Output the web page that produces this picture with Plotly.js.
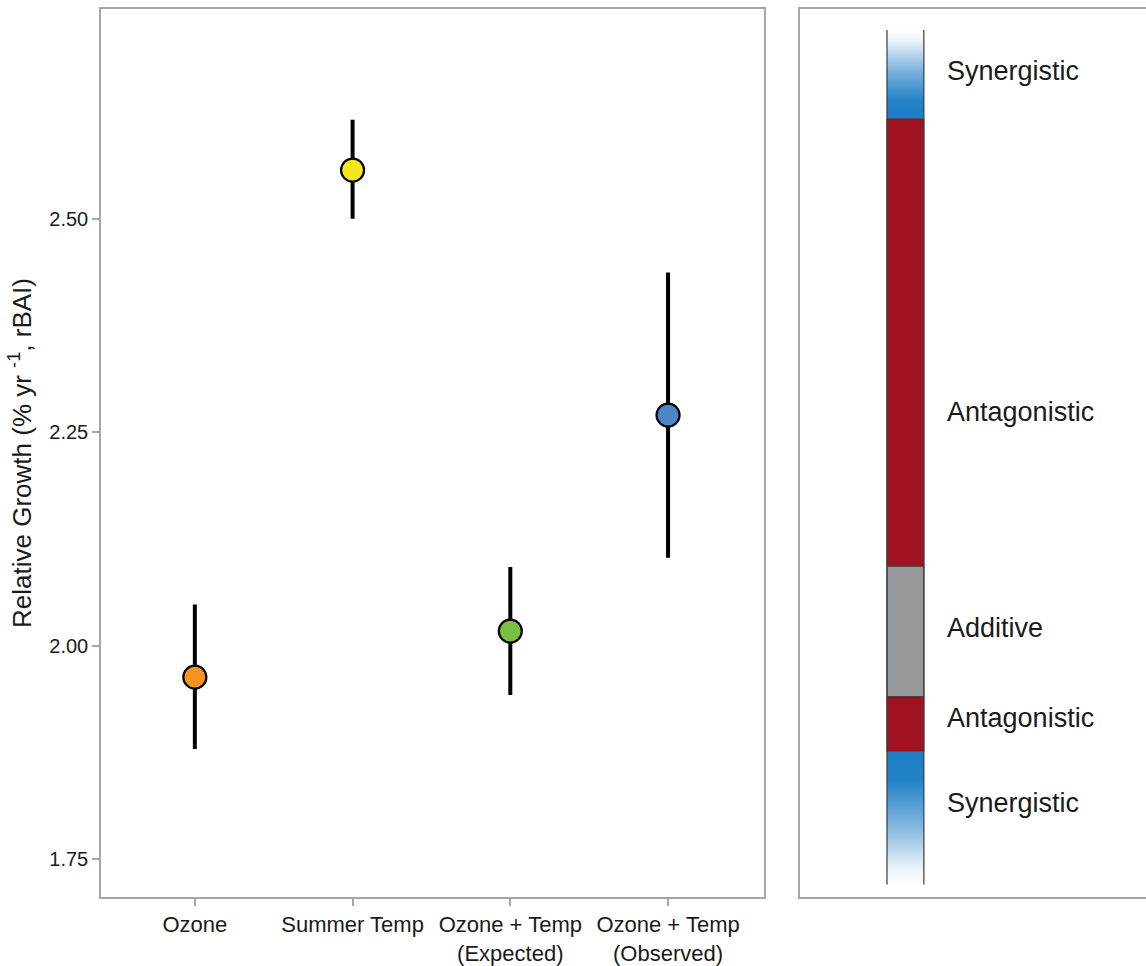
<!DOCTYPE html>
<html>
<head>
<meta charset="utf-8">
<script src="https://cdn.plot.ly/plotly-3.0.1.min.js"></script>
<style>
  html, body { margin: 0; padding: 0; background: #ffffff; }
  #chart { width: 1146px; height: 966px; }
</style>
</head>
<body>
<div id="chart"></div>
<script>
// Relative growth estimates (mean with interval) per treatment
const categories = ['Ozone', 'Summer Temp', 'Ozone + Temp<br>(Expected)', 'Ozone + Temp<br>(Observed)'];
const growthMean = [1.963, 2.557, 2.017, 2.270];
const growthUpper = [2.048, 2.616, 2.092, 2.437];
const growthLower = [1.879, 2.500, 1.942, 2.103];
const pointColors = ['#F7931E', '#F5E71C', '#79C143', '#4A87C8'];

// Interaction classification bands (edges from top to bottom)
const bandEdges = [2.721, 2.617, 2.093, 1.940, 1.876, 1.720];
const bandNames = ['Synergistic', 'Antagonistic', 'Additive', 'Antagonistic', 'Synergistic'];
const bandLabelY = [2.670, 2.271, 2.018, 1.913, 1.813];
const bandColors = ['gradientUp', '#A01220', '#97989A', '#A01220', 'gradientDown'];

const yRange = [1.7055, 2.7457];
const BLUE = '#1E7DC5';
const barX0 = 0.2514, barX1 = 0.358;

const traces = [];

// Points with vertical intervals (no caps)
traces.push({
  type: 'scatter',
  mode: 'markers',
  x: categories,
  y: growthMean,
  xaxis: 'x', yaxis: 'y',
  error_y: {
    type: 'data',
    symmetric: false,
    array: growthMean.map((m, i) => growthUpper[i] - m),
    arrayminus: growthMean.map((m, i) => m - growthLower[i]),
    color: '#000000',
    thickness: 4,
    width: 0
  },
  marker: {
    size: 23,
    color: pointColors,
    line: { color: '#000000', width: 2.2 }
  },
  hoverinfo: 'x+y',
  showlegend: false
});

// Classification bar segments
for (let i = 0; i < bandNames.length; i++) {
  const top = bandEdges[i], bot = bandEdges[i + 1];
  const seg = {
    type: 'scatter',
    mode: 'lines',
    x: [barX0, barX1, barX1, barX0, barX0],
    y: [bot, bot, top, top, bot],
    xaxis: 'x2', yaxis: 'y2',
    fill: 'toself',
    hoverinfo: 'skip',
    showlegend: false
  };
  if (bandColors[i] === 'gradientUp') {
    seg.line = { width: 0 };
    seg.fillgradient = {
      type: 'vertical', start: bot, stop: top,
      colorscale: [[0, BLUE], [0.2, '#2283C8'], [0.55, '#7EB4DE'], [0.88, '#EAF3FA'], [1, '#FFFFFF']]
    };
  } else if (bandColors[i] === 'gradientDown') {
    seg.line = { width: 0 };
    seg.fillgradient = {
      type: 'vertical', start: bot, stop: top,
      colorscale: [[0, '#FFFFFF'], [0.12, '#EAF3FA'], [0.45, '#7EB4DE'], [0.78, '#2283C8'], [1, BLUE]]
    };
  } else {
    seg.fillcolor = bandColors[i];
    seg.line = { color: '#3a3a3a', width: 1 };
  }
  traces.push(seg);
}

// Side rails of the bar
[barX0, barX1].forEach(xv => {
  traces.push({
    type: 'scatter', mode: 'lines',
    x: [xv, xv],
    y: [bandEdges[0], bandEdges[bandEdges.length - 1]],
    xaxis: 'x2', yaxis: 'y2',
    line: { color: '#3a3a3a', width: 1.2 },
    hoverinfo: 'skip', showlegend: false
  });
});

// Band labels
traces.push({
  type: 'scatter', mode: 'text',
  x: bandNames.map(() => 0.425),
  y: bandLabelY,
  text: bandNames,
  textposition: 'middle right',
  textfont: { family: 'Liberation Sans, Arial, sans-serif', size: 27, color: '#1a1a1a' },
  xaxis: 'x2', yaxis: 'y2',
  hoverinfo: 'skip', showlegend: false
});

const font = { family: 'Liberation Sans, Arial, sans-serif', color: '#1a1a1a' };

const layout = {
  width: 1146, height: 966,
  margin: { l: 101, r: 0, t: 9, b: 69, pad: 0 },
  paper_bgcolor: '#ffffff',
  plot_bgcolor: '#ffffff',
  font: font,
  showlegend: false,
  xaxis: {
    domain: [0, 0.6344],
    type: 'category',
    range: [-0.595, 3.608],
    showgrid: false, zeroline: false,
    showline: true, mirror: true, linecolor: '#A6A6A6', linewidth: 1.5,
    ticks: 'outside', ticklen: 7, tickcolor: '#A6A6A6', tickwidth: 1.5,
    tickfont: { family: font.family, size: 22, color: '#1a1a1a' },
    fixedrange: true
  },
  yaxis: {
    range: yRange,
    tickvals: [1.75, 2.00, 2.25, 2.50],
    tickformat: '.2f',
    showgrid: false, zeroline: false,
    showline: true, mirror: true, linecolor: '#A6A6A6', linewidth: 1.5,
    ticks: 'outside', ticklen: 7, tickcolor: '#A6A6A6', tickwidth: 1.5,
    tickfont: { family: font.family, size: 20, color: '#1a1a1a' },
    title: {
      text: 'Relative Growth (% yr <sup>-1</sup>, rBAI)',
      font: { family: font.family, size: 26, color: '#1a1a1a' },
      standoff: 10
    },
    fixedrange: true
  },
  xaxis2: {
    domain: [0.6689, 1],
    anchor: 'y2',
    range: [0, 1],
    showgrid: false, zeroline: false, showticklabels: false, ticks: '',
    showline: true, mirror: true, linecolor: '#A6A6A6', linewidth: 1.5,
    fixedrange: true
  },
  yaxis2: {
    anchor: 'x2',
    range: yRange,
    showgrid: false, zeroline: false, showticklabels: false, ticks: '',
    showline: true, mirror: false, linecolor: '#A6A6A6', linewidth: 1.5,
    fixedrange: true
  }
};

Plotly.newPlot('chart', traces, layout, { displayModeBar: false, responsive: false });
</script>
</body>
</html>
